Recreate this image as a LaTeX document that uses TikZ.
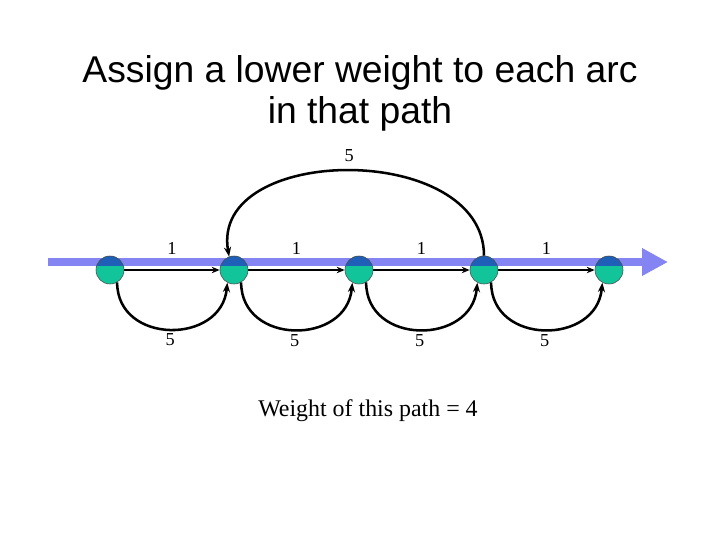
\documentclass[tikz,border=0pt]{standalone}
\usepackage{fontspec}
\setmainfont{Liberation Serif}
\newfontfamily\titlefont{Liberation Sans}
\usetikzlibrary{arrows.meta}
\definecolor{pathband}{HTML}{8484F2}
\definecolor{vtxtop}{HTML}{1F5FB8}
\definecolor{vtxbot}{HTML}{12C49A}
\tikzset{
  vtx/.style={circle,draw=black!70,fill=vtxbot,minimum size=0.7cm,inner sep=0pt,
              path picture={\fill[vtxtop] (path picture bounding box.north west)
                rectangle ([yshift=1mm]path picture bounding box.east);}},
  band/.style={draw=pathband,line width=0.2cm,-{Triangle[length=0.65cm,width=0.65cm]}},
  ar/.style={-{Stealth[length=2mm,width=1.6mm]},line width=1.3pt},
  arc/.style={-{Stealth[length=2.4mm,width=1.8mm]},line width=1.8pt},
  lab/.style={font=\fontsize{13}{15}\selectfont,inner sep=1pt},
}
\begin{document}
\begin{tikzpicture}[x=0.025cm,y=-0.025cm]
  \useasboundingbox[fill=white] (0,0) rectangle (720,540);
  \node[font=\titlefont\fontsize{26.5}{29}\selectfont,align=center] (title) at (360,93)
    {Assign a lower weight to each arc\\in that path};
  % highlighted path
  \coordinate (bs) at (48,262);
  \coordinate (be) at (668,262);
  \draw[band] (bs) -- (be);
  \foreach \i/\x in {1/110,2/234,3/359,4/484,5/609}
    \node[vtx] (n\i) at (\x,270) {};
  % arcs of weight 1
  \foreach \a/\b in {1/2,2/3,3/4,4/5}
    \draw[ar] (n\a) -- node[lab,above=0.32cm] (w\a) {1} (n\b);
  % arcs of weight 5
  \foreach \a/\b in {1/2,2/3,3/4,4/5}
    \draw[arc] (n\a.-60) to[out=-90,in=-95,looseness=1.45]
      node[lab,below=0.05cm] (v\a) {5} (n\b.-118);
  \draw[arc] (n4.90) to[out=90,in=100,looseness=1.15]
    node[lab,above=0.15cm] (top) {5} (n2.110);
  \node[font=\fontsize{17}{20}\selectfont] (total) at (368,411) {Weight of this path = 4};
\end{tikzpicture}
\end{document}
